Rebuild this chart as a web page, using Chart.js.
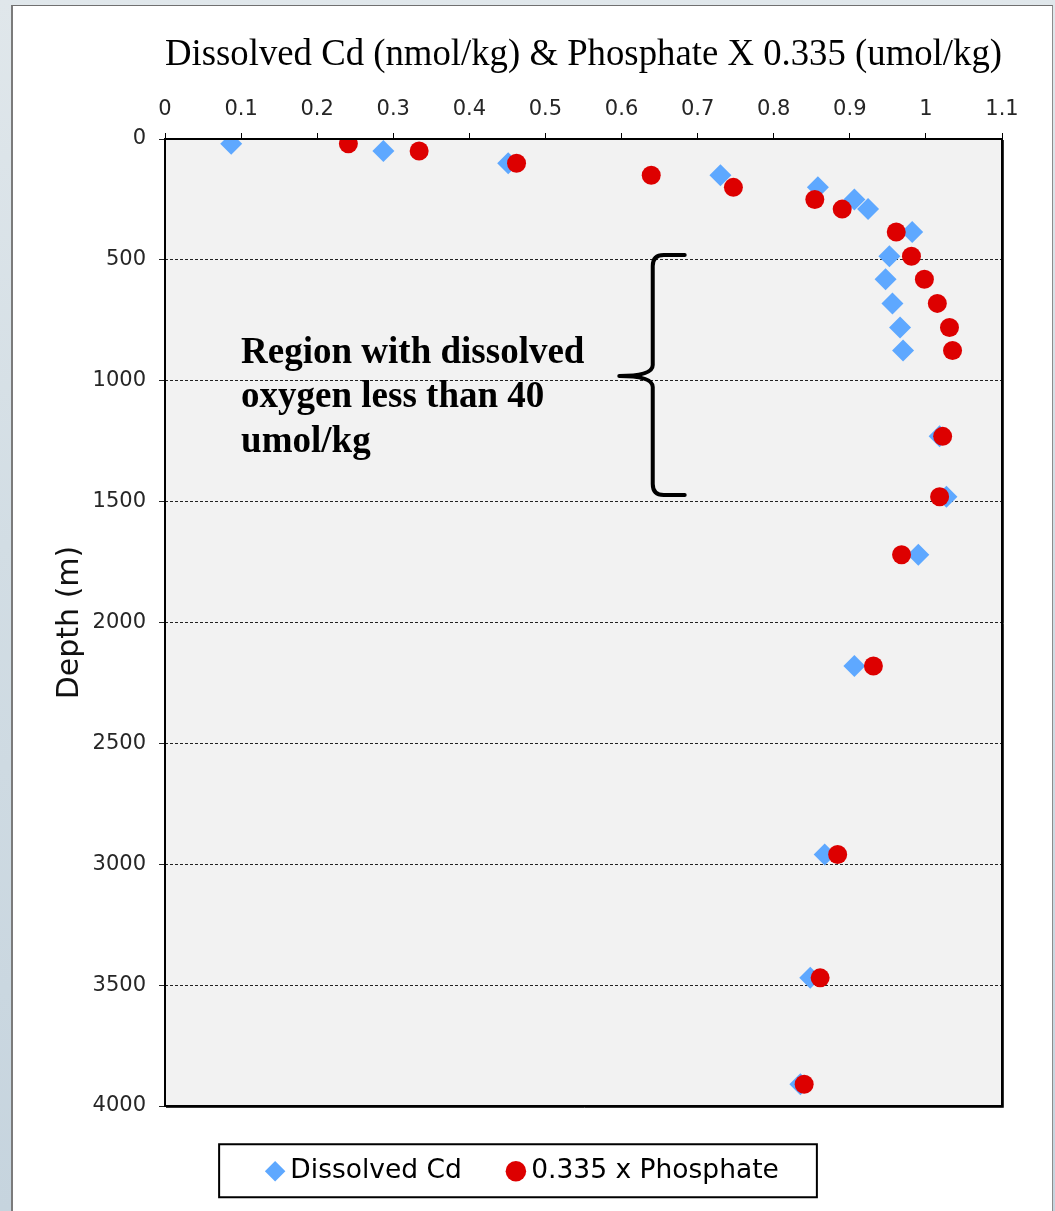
<!DOCTYPE html>
<html>
<head>
<meta charset="utf-8">
<title>Dissolved Cd and phosphate depth profile</title>
<script src="https://cdn.jsdelivr.net/npm/chart.js@4.4.1/dist/chart.umd.min.js"></script>
<style>
  html, body { margin: 0; padding: 0; }
  body {
    width: 1055px; height: 1211px; overflow: hidden; position: relative;
    background: linear-gradient(180deg, #e0e7eb 0%, #d2dde4 45%, #c6d4de 100%);
  }
  #panel {
    position: absolute; left: 11px; top: 5px; width: 1039px; height: 1220px;
    background: #fff;
    border-left: 2px solid #7b7b7b; border-top: 1px solid #707070; border-right: 1px solid #8c8c8c;
  }
  #wrap { position: absolute; left: 13px; top: 5px; width: 1026px; height: 1206px; }
</style>
</head>
<body>
<div id="panel"></div>
<div id="wrap"><canvas id="profileChart" width="1026" height="1206"></canvas></div>
<script>
// bottle depths (m), shared by both profiles
const depths = [20, 50, 100, 150, 200, 250, 290, 385, 485, 580, 680, 780, 875, 1230, 1480, 1720, 2180, 2960, 3470, 3910];
const cadmium = [0.087, 0.287, 0.451, 0.730, 0.858, 0.906, 0.924, 0.982, 0.952, 0.947, 0.956, 0.966, 0.970, 1.018, 1.027, 0.990, 0.906, 0.867, 0.848, 0.835];
const phosphateScaled = [0.241, 0.334, 0.462, 0.639, 0.747, 0.854, 0.890, 0.961, 0.981, 0.998, 1.015, 1.031, 1.035, 1.022, 1.018, 0.968, 0.931, 0.884, 0.861, 0.840];

const seriesNames = ["Dissolved Cd", "0.335 x Phosphate"];
const xTicks = [0, 0.1, 0.2, 0.3, 0.4, 0.5, 0.6, 0.7, 0.8, 0.9, 1, 1.1];
const depthTicks = [0, 500, 1000, 1500, 2000, 2500, 3000, 3500, 4000];

const chartTitle = "Dissolved Cd (nmol/kg) & Phosphate X 0.335 (umol/kg)";
const depthTitle = "Depth (m)";
const noteLines = ["Region with dissolved", "oxygen less than 40", "umol/kg"];

// low-oxygen band bracketed on the plot (depth in m, x in axis units)
const lowOxygenTop = 480;
const lowOxygenMid = 980;
const lowOxygenBottom = 1473;
const braceTipX = 0.597, braceSpineX = 0.641, braceEndX = 0.683;
const noteX = 0.1, noteDepth = 925;

const SANS = '"DejaVu Sans", Verdana, sans-serif';
const SERIF = '"Liberation Serif", "Times New Roman", serif';

const titleSize = 38, titlePadTop = 27;
const plotTop = 134;          // canvas px
const plotBottom = 1101;      // canvas px
const legendFont = 26.5, legendPad = 52;

// grey plot area
const plotBackground = {
  id: "plotBackground",
  beforeDraw(chart) {
    const { ctx, chartArea: a } = chart;
    ctx.save();
    ctx.fillStyle = "#f2f2f2";
    ctx.fillRect(a.left, a.top, a.width, a.height);
    ctx.restore();
  }
};

// black frame round the plot, heavier on the right and bottom
const plotFrame = {
  id: "plotFrame",
  afterDatasetsDraw(chart) {
    const { ctx, chartArea: a } = chart;
    ctx.save();
    ctx.strokeStyle = "#000";
    ctx.lineWidth = 2;
    ctx.strokeRect(a.left, a.top, a.width, a.height);
    ctx.lineWidth = 1;
    ctx.strokeStyle = "#333";
    ctx.beginPath();
    ctx.moveTo(a.right + 1.5, a.top + 1);
    ctx.lineTo(a.right + 1.5, a.bottom + 1.5);
    ctx.lineTo(a.left + 1, a.bottom + 1.5);
    ctx.stroke();
    ctx.restore();
  }
};

// curly brace and note for the low-oxygen zone
const oxygenNote = {
  id: "oxygenNote",
  afterDatasetsDraw(chart) {
    const { ctx } = chart;
    const x = chart.scales.x, y = chart.scales.y;
    const xt = x.getPixelForValue(braceTipX);
    const xs = x.getPixelForValue(braceSpineX);
    const xe = x.getPixelForValue(braceEndX);
    const yt = y.getPixelForValue(lowOxygenTop);
    const ym = y.getPixelForValue(lowOxygenMid);
    const yb = y.getPixelForValue(lowOxygenBottom);
    const r = 11;
    ctx.save();
    ctx.strokeStyle = "#000";
    ctx.lineWidth = 4;
    ctx.lineCap = "round";
    ctx.lineJoin = "round";
    ctx.beginPath();
    ctx.moveTo(xe, yt);
    ctx.lineTo(xs + r, yt);
    ctx.quadraticCurveTo(xs, yt, xs, yt + r);
    ctx.lineTo(xs, ym - r);
    ctx.quadraticCurveTo(xs, ym, xt, ym);
    ctx.quadraticCurveTo(xs, ym, xs, ym + r);
    ctx.lineTo(xs, yb - r);
    ctx.quadraticCurveTo(xs, yb, xs + r, yb);
    ctx.lineTo(xe, yb);
    ctx.stroke();

    ctx.fillStyle = "#000";
    ctx.font = "bold 37px " + SERIF;
    ctx.textAlign = "left";
    ctx.textBaseline = "alphabetic";
    const nx = x.getPixelForValue(noteX);
    const ny = y.getPixelForValue(noteDepth);
    noteLines.forEach((line, i) => ctx.fillText(line, nx, ny + i * 44.5));
    ctx.restore();
  }
};

// box round the legend entries
const legendFrame = {
  id: "legendFrame",
  afterDraw(chart) {
    const boxes = chart.legend.legendHitBoxes;
    if (!boxes || !boxes.length) return;
    const { ctx } = chart;
    const left = Math.min(...boxes.map(b => b.left)) - 54;
    const right = Math.max(...boxes.map(b => b.left + b.width)) + 38;
    const mid = boxes[0].top + boxes[0].height / 2;
    ctx.save();
    ctx.strokeStyle = "#000";
    ctx.lineWidth = 2;
    ctx.strokeRect(left, mid - 27, right - left, 53);
    ctx.restore();
  }
};

const ctx = document.getElementById("profileChart").getContext("2d");

new Chart(ctx, {
  type: "scatter",
  data: {
    datasets: [
      {
        label: seriesNames[0],
        data: depths.map((d, i) => ({ x: cadmium[i], y: d })),
        pointStyle: "rectRot",
        pointRadius: 11,
        pointHoverRadius: 11,
        pointBorderWidth: 0,
        backgroundColor: "#5ea8ff",
        borderColor: "#5ea8ff",
        order: 1
      },
      {
        label: seriesNames[1],
        data: depths.map((d, i) => ({ x: phosphateScaled[i], y: d })),
        pointStyle: "circle",
        pointRadius: 9.5,
        pointHoverRadius: 9.5,
        pointBorderWidth: 0,
        backgroundColor: "#dd0000",
        borderColor: "#dd0000",
        order: 0
      }
    ]
  },
  options: {
    responsive: false,
    animation: false,
    events: [],
    layout: { padding: { left: 0, right: 0, top: 0, bottom: 1206 - plotBottom - (legendFont + legendPad + 10) } },
    scales: {
      x: {
        type: "linear",
        position: "top",
        min: 0,
        max: 1.1,
        afterBuildTicks: (s) => { s.ticks = xTicks.map(v => ({ value: v })); },
        afterFit: (s) => { s.height = plotTop - (titlePadTop + titleSize * 1.2); },
        ticks: {
          padding: 11,
          color: "#262626",
          font: { family: SANS, size: 21 },
          maxRotation: 0,
          callback: (v) => String(v)
        },
        grid: { drawOnChartArea: false, drawTicks: true, tickLength: 6, color: "#000", lineWidth: 1 },
        border: { display: false }
      },
      y: {
        type: "linear",
        reverse: true,
        min: 0,
        max: 4000,
        afterBuildTicks: (s) => { s.ticks = depthTicks.map(v => ({ value: v })); },
        afterFit: (s) => { s.width = 152; },
        ticks: {
          padding: 13,
          color: "#262626",
          font: { family: SANS, size: 21 },
          callback: (v) => String(v)
        },
        grid: { drawOnChartArea: true, drawTicks: true, tickLength: 6, color: "#222", lineWidth: 1, tickBorderDash: [] },
        border: { display: false, dash: [3, 2] },
        title: {
          display: true,
          text: depthTitle,
          color: "#111",
          font: { family: SANS, size: 30 },
          padding: { top: 39, bottom: 0 }
        }
      },
      yRight: {
        type: "linear",
        position: "right",
        display: true,
        afterFit: (s) => { s.width = 37; },
        ticks: { display: false },
        grid: { display: false },
        border: { display: false }
      }
    },
    plugins: {
      title: {
        display: true,
        text: chartTitle,
        fullSize: false,
        color: "#000",
        font: { family: SERIF, size: titleSize, weight: "normal" },
        padding: { top: titlePadTop, bottom: 0 }
      },
      legend: {
        display: true,
        position: "bottom",
        labels: {
          usePointStyle: true,
          boxWidth: 4,
          boxHeight: 14.5,
          padding: legendPad,
          color: "#000",
          font: { family: SANS, size: legendFont },
          sort: (a, b) => a.datasetIndex - b.datasetIndex
        }
      },
      tooltip: { enabled: false }
    }
  },
  plugins: [plotBackground, plotFrame, oxygenNote, legendFrame]
});
</script>
</body>
</html>
